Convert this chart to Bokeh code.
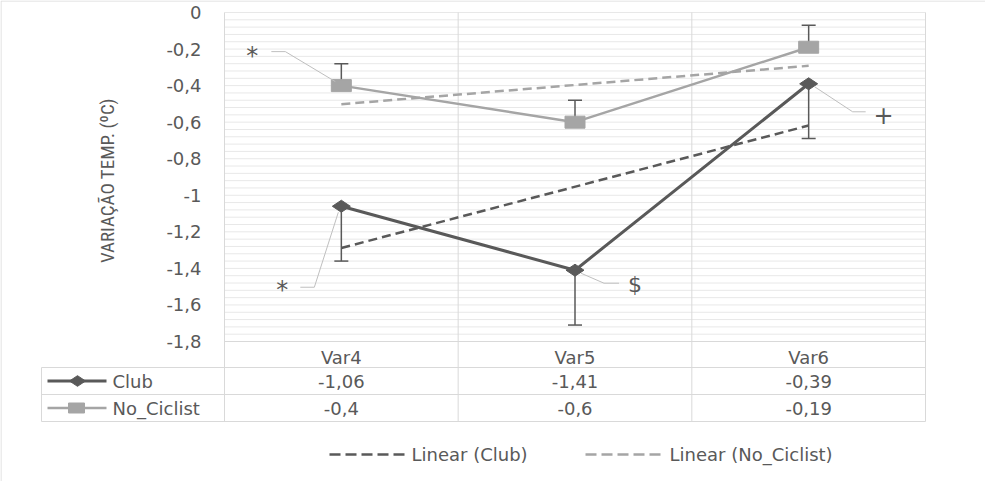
import numpy as np
from bokeh.plotting import figure
from bokeh.models import Range1d, LinearAxis, FixedTicker, CustomJSTickFormatter
from bokeh.core.properties import value
from bokeh.embed import file_html
from bokeh.resources import INLINE

# ---------------- data ----------------
categories = ["Var4", "Var5", "Var6"]
club = [-1.06, -1.41, -0.39]
no_ciclist = [-0.4, -0.6, -0.19]
club_err_minus = [0.30, 0.30, 0.30]
no_ciclist_err_plus = [0.12, 0.12, 0.12]
series_names = ["Club", "No_Ciclist"]
trend_names = ["Linear (Club)", "Linear (No_Ciclist)"]
y_ticks = [0, -0.2, -0.4, -0.6, -0.8, -1.0, -1.2, -1.4, -1.6, -1.8]
y_tick_labels = ["0", "-0,2", "-0,4", "-0,6", "-0,8", "-1", "-1,2", "-1,4", "-1,6", "-1,8"]
y_title = "VARIAÇÃO TEMP. (ºC)"
# significance marks: (series, category index, symbol)
sig_series = ["No_Ciclist", "Club", "Club", "Club"]
sig_index = [0, 0, 1, 2]
sig_symbols = ["*", "*", "$", "+"]

# ---------------- layout (pixels, canvas coords) ----------------
W, H = 985, 481
PL, PR, PT, PB = 224, 925, 12, 341
DARK, LIGHT = "#595959", "#a5a5a5"
TXT = "#595959"
FONT = "DejaVu Sans"
FS = "18px"
n = len(categories)
y_top, y_bot = y_ticks[0], y_ticks[-1]
kx = (PR - PL) / n
ky = (PB - PT) / (y_top - y_bot)
x_start = 0.5 - PL / kx
x_end = n + 0.5 + (W - PR) / kx
y_end = y_top + PT / ky
y_start = y_top - (H - PT) / ky


def X(px):
    return x_start + px / kx


def Y(py):
    return y_end - py / ky


def dX(px):
    return px / kx


def dY(py):
    return -py / ky


p = figure(width=W, height=H, x_range=Range1d(x_start, x_end), y_range=Range1d(y_start, y_end),
           x_axis_type=None, y_axis_type=None, output_backend="svg", toolbar_location=None,
           min_border=0, outline_line_color=None, title=None,
           background_fill_color="white", border_fill_color="white")

xs = np.arange(1, n + 1)
club_a = np.array(club)
no_a = np.array(no_ciclist)

# minor + major horizontal gridlines (plot area only)
grid_y = np.linspace(y_top, y_bot, 5 * (len(y_ticks) - 1) + 1)
p.segment(x0=0.5, x1=n + 0.5, y0=grid_y, y1=grid_y, line_color="#e8e8e8", line_width=1)

# table geometry
row_lines = [Y(367), Y(394), Y(421)]
club_row_y = (row_lines[0] + row_lines[1]) / 2
no_row_y = (row_lines[1] + row_lines[2]) / 2
bounds_x = np.arange(0.5, n + 1, 1.0)
p.segment(x0=bounds_x, x1=bounds_x, y0=y_top, y1=row_lines[-1], line_color="#d9d9d9", line_width=1)
p.segment(x0=[0.5], x1=[n + 0.5], y0=[y_bot], y1=[y_bot], line_color="#d9d9d9", line_width=1)
p.segment(x0=X(41), x1=n + 0.5, y0=row_lines, y1=row_lines, line_color="#d9d9d9", line_width=1)
p.segment(x0=[X(41)], x1=[X(41)], y0=[row_lines[0]], y1=[row_lines[-1]], line_color="#d9d9d9", line_width=1)

# outer chart border (top + left visible)
p.segment(x0=[X(0.5), X(0.5)], x1=[x_end, X(0.5)], y0=[Y(0.5), Y(0.5)], y1=[Y(0.5), y_start],
          line_color="#d9d9d9", line_width=1)

# trend lines
tx = np.array([1, n])
c_fit = np.polyfit(xs, club_a, 1)
n_fit = np.polyfit(xs, no_a, 1)
p.line(tx, np.polyval(n_fit, tx), line_color=LIGHT, line_width=2.5, line_dash="9 5")
p.line(tx, np.polyval(c_fit, tx), line_color=DARK, line_width=2.5, line_dash="9 5")

# series lines
p.line(xs, no_a, line_color=LIGHT, line_width=2.5)
p.line(xs, club_a, line_color=DARK, line_width=3)

# error bars
c_low = club_a - np.array(club_err_minus)
n_high = no_a + np.array(no_ciclist_err_plus)
p.segment(x0=xs, x1=xs, y0=club_a, y1=c_low, line_color=DARK, line_width=1.5)
p.scatter(xs, c_low, marker="dash", size=14, line_color=DARK, line_width=1.5)
p.segment(x0=xs, x1=xs, y0=no_a, y1=n_high, line_color=DARK, line_width=1.5)
p.scatter(xs, n_high, marker="dash", size=14, line_color=DARK, line_width=1.5)

# markers
p.rect(xs, no_a, width=20, height=12, width_units="screen", height_units="screen",
       fill_color=LIGHT, line_color=LIGHT)
p.scatter(xs, club_a, marker="diamond", size=18, angle=np.pi / 2, fill_color=DARK, line_color=DARK)

# significance annotations (offsets in px from the data point)
sig_text_off = [(-89, -30), (-59, 84), (60, 14), (75, 31)]
sig_leader_off = [[(-6, -4), (-56, -34), (-70, -34)],
                  [(-3, 6), (-27, 81), (-41, 81)],
                  [(6, 3), (29, 13), (44, 13)],
                  [(6, 3), (44, 28), (57, 28)]]
sig_size = ["24px", "24px", "22px", "24px"]
lead_xs, lead_ys = [], []
for k, (s, i, sym) in enumerate(zip(sig_series, sig_index, sig_symbols)):
    bx = xs[i]
    by = (club_a if s == "Club" else no_a)[i]
    lead_xs.append([bx + dX(o[0]) for o in sig_leader_off[k]])
    lead_ys.append([by + dY(o[1]) for o in sig_leader_off[k]])
    p.text(x=[bx + dX(sig_text_off[k][0])], y=[by + dY(sig_text_off[k][1])], text=[sym],
           text_align="center", text_baseline="middle", text_font=value(FONT),
           text_font_size=sig_size[k], text_color=TXT)
p.multi_line(lead_xs, lead_ys, line_color="#bfbfbf", line_width=1)

# table: row headers with icons
p.segment(x0=[X(47)], x1=[X(106)], y0=[club_row_y], y1=[club_row_y], line_color=DARK, line_width=3)
p.scatter([X(77)], [club_row_y], marker="diamond", size=16, angle=np.pi / 2, fill_color=DARK, line_color=DARK)
p.segment(x0=[X(47)], x1=[X(106)], y0=[no_row_y], y1=[no_row_y], line_color=LIGHT, line_width=2.5)
p.rect([X(76)], [no_row_y], width=16, height=10, width_units="screen", height_units="screen",
       fill_color=LIGHT, line_color=LIGHT)
p.text(x=[X(112), X(112)], y=[club_row_y, no_row_y], text=series_names, text_align="left",
       text_baseline="middle", text_font=value(FONT), text_font_size=FS, text_color=TXT)


def fmt(v):
    return ("%g" % v).replace(".", ",")


p.text(x=xs, y=[club_row_y] * n, text=[fmt(v) for v in club], text_align="center",
       text_baseline="middle", text_font=value(FONT), text_font_size=FS, text_color=TXT)
p.text(x=xs, y=[no_row_y] * n, text=[fmt(v) for v in no_ciclist], text_align="center",
       text_baseline="middle", text_font=value(FONT), text_font_size=FS, text_color=TXT)

# legend for trend lines
leg_y = Y(454)
p.segment(x0=[X(329)], x1=[X(404)], y0=[leg_y], y1=[leg_y], line_color=DARK, line_width=2.5, line_dash="11 5")
p.segment(x0=[X(585)], x1=[X(662)], y0=[leg_y], y1=[leg_y], line_color=LIGHT, line_width=2.5, line_dash="11 5")
p.text(x=[X(411), X(669)], y=[leg_y, leg_y], text=trend_names, text_align="left", text_baseline="middle",
       text_font=value(FONT), text_font_size=FS, text_color=TXT)

# y axis title
p.text(x=[X(107)], y=[Y(180)], text=[y_title], angle=np.pi / 2, text_align="center", text_baseline="middle",
       text_font=value("Liberation Sans Narrow, Roboto Condensed, DejaVu Sans Condensed, Liberation Sans"),
       text_font_size="19px", text_color=TXT)

# axes (fixed inside the canvas)
yaxis = LinearAxis(fixed_location=0.5, ticker=FixedTicker(ticks=y_ticks, minor_ticks=[]),
                   formatter=CustomJSTickFormatter(args=dict(tvals=y_ticks, labs=y_tick_labels), code="""
let best = 0;
for (let i = 0; i < tvals.length; i++) {
  if (Math.abs(tvals[i] - tick) < Math.abs(tvals[best] - tick)) best = i;
}
return labs[best];
"""),
                   axis_line_color=None, major_tick_line_color=None, minor_tick_line_color=None,
                   major_tick_out=0, major_tick_in=0, minor_tick_out=0, minor_tick_in=0,
                   major_label_standoff=23, major_label_text_font=FONT,
                   major_label_text_font_size=FS, major_label_text_color=TXT)
p.add_layout(yaxis, "left")

xaxis = LinearAxis(fixed_location=y_bot, ticker=FixedTicker(ticks=list(xs), minor_ticks=[]),
                   formatter=CustomJSTickFormatter(args=dict(cats=categories),
                                                   code="return cats[Math.round(tick) - 1];"),
                   axis_line_color=None, major_tick_line_color=None, minor_tick_line_color=None,
                   major_tick_out=0, major_tick_in=0, minor_tick_out=0, minor_tick_in=0,
                   major_label_standoff=5, major_label_text_font=FONT,
                   major_label_text_font_size=FS, major_label_text_color=TXT)
p.add_layout(xaxis, "below")

open("out.html", "w").write(file_html(p, INLINE))
